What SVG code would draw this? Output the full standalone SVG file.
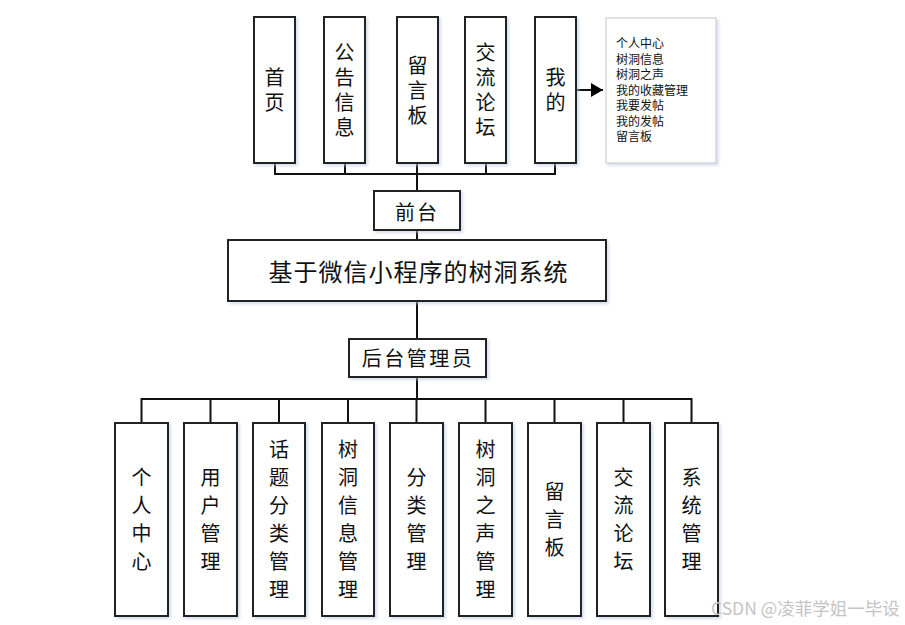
<svg xmlns="http://www.w3.org/2000/svg" width="905" height="625" viewBox="0 0 905 625">
<defs>
<filter id="sh" x="-20%" y="-20%" width="140%" height="140%">
<feDropShadow dx="2" dy="2" stdDeviation="1.5" flood-color="#b8c8e0" flood-opacity="0.6"/>
</filter>
<marker id="arr" markerWidth="12" markerHeight="14" refX="12" refY="7" orient="auto" markerUnits="userSpaceOnUse">
<path d="M0,0 L12,7 L0,14 Z" fill="#000"/>
</marker>
</defs>
<style>
.box{fill:#fff;stroke:#222;stroke-width:2;filter:url(#sh);}
.info{fill:#fff;stroke:#d0d0d0;stroke-width:1.2;filter:url(#sh);}
.ln{fill:none;stroke:#111;stroke-width:2;}
.t{font-family:"Noto Sans CJK SC","Noto Sans",sans-serif;font-size:20px;fill:#111;text-anchor:middle;dominant-baseline:central;}
.v{font-family:"Noto Sans CJK SC","Noto Sans",sans-serif;font-size:20px;fill:#111;text-anchor:middle;writing-mode:vertical-rl;}
.vt{letter-spacing:5px;}
.vb{letter-spacing:8px;}
.s{font-family:"Noto Sans CJK SC","Noto Sans",sans-serif;font-size:12px;fill:#111;}
.wm{font-family:"Noto Sans CJK SC","Liberation Sans",sans-serif;font-size:17.5px;fill:#c4c4c4;}
</style>
<rect width="905" height="625" fill="#fff"/>
<g id="connectors">
<path class="ln" d="M275,163 V174 H555 V163 M345,163 V174 M417,163 V191 M486,163 V174"/>
<path class="ln" d="M417,230 V240 M417,301 V339 M417,377 V399"/>
<path class="ln" d="M141.5,423 V399 H691.5 V423 M210.5,399 V423 M279,399 V423 M348,399 V423 M416.5,399 V423 M485.5,399 V423 M554.5,399 V423 M623.5,399 V423"/>
<line class="ln" x1="576" y1="90" x2="603" y2="90" marker-end="url(#arr)"/>
</g>
<g id="n-home"><rect class="box" x="254" y="17" width="41" height="146"/><text class="v vt" x="274.5" y="92.5">首页</text></g>
<g id="n-notice"><rect class="box" x="324" y="17" width="41" height="146"/><text class="v vt" x="344.5" y="92.5">公告信息</text></g>
<g id="n-msg"><rect class="box" x="397" y="17" width="41" height="146"/><text class="v vt" x="417.5" y="92.5">留言板</text></g>
<g id="n-forum"><rect class="box" x="465" y="17" width="41" height="146"/><text class="v vt" x="485.5" y="92.5">交流论坛</text></g>
<g id="n-mine"><rect class="box" x="535" y="17" width="41" height="146"/><text class="v vt" x="555.5" y="92.5">我的</text></g>
<g id="n-mine-list"><rect class="info" x="606" y="18" width="110" height="145"/>
<text class="s" x="616" y="48">个人中心</text>
<text class="s" x="616" y="63.5">树洞信息</text>
<text class="s" x="616" y="79">树洞之声</text>
<text class="s" x="616" y="94.5">我的收藏管理</text>
<text class="s" x="616" y="110">我要发帖</text>
<text class="s" x="616" y="125.5">我的发帖</text>
<text class="s" x="616" y="141">留言板</text>
</g>
<g id="n-front"><rect class="box" x="374" y="191" width="86" height="39"/><text class="t" x="417" y="211" letter-spacing="2">前台</text></g>
<g id="n-root"><rect class="box" x="228" y="240" width="378" height="61"/><text class="t" x="418.5" y="270" style="font-size:24px" letter-spacing="1">基于微信小程序的树洞系统</text></g>
<g id="n-admin"><rect class="box" x="349" y="339" width="137" height="38"/><text class="t" x="418" y="357.5" letter-spacing="2.5">后台管理员</text></g>
<g id="n-a1"><rect class="box" x="115" y="423" width="53" height="193"/><text class="v vb" x="141.5" y="523.5">个人中心</text></g>
<g id="n-a2"><rect class="box" x="184" y="423" width="53" height="193"/><text class="v vb" x="210.5" y="523.5">用户管理</text></g>
<g id="n-a3"><rect class="box" x="253" y="423" width="52" height="193"/><text class="v vb" x="279" y="523.5">话题分类管理</text></g>
<g id="n-a4"><rect class="box" x="322" y="423" width="52" height="193"/><text class="v vb" x="348" y="523.5">树洞信息管理</text></g>
<g id="n-a5"><rect class="box" x="390" y="423" width="53" height="193"/><text class="v vb" x="416.5" y="523.5">分类管理</text></g>
<g id="n-a6"><rect class="box" x="459" y="423" width="53" height="193"/><text class="v vb" x="485.5" y="523.5">树洞之声管理</text></g>
<g id="n-a7"><rect class="box" x="528" y="423" width="53" height="193"/><text class="v vb" x="554.5" y="523.5">留言板</text></g>
<g id="n-a8"><rect class="box" x="597" y="423" width="53" height="193"/><text class="v vb" x="623.5" y="523.5">交流论坛</text></g>
<g id="n-a9"><rect class="box" x="665" y="423" width="53" height="193"/><text class="v vb" x="691.5" y="523.5">系统管理</text></g>
<text class="wm" x="711" y="615">CSDN @凌菲学姐一毕设</text>
</svg>
